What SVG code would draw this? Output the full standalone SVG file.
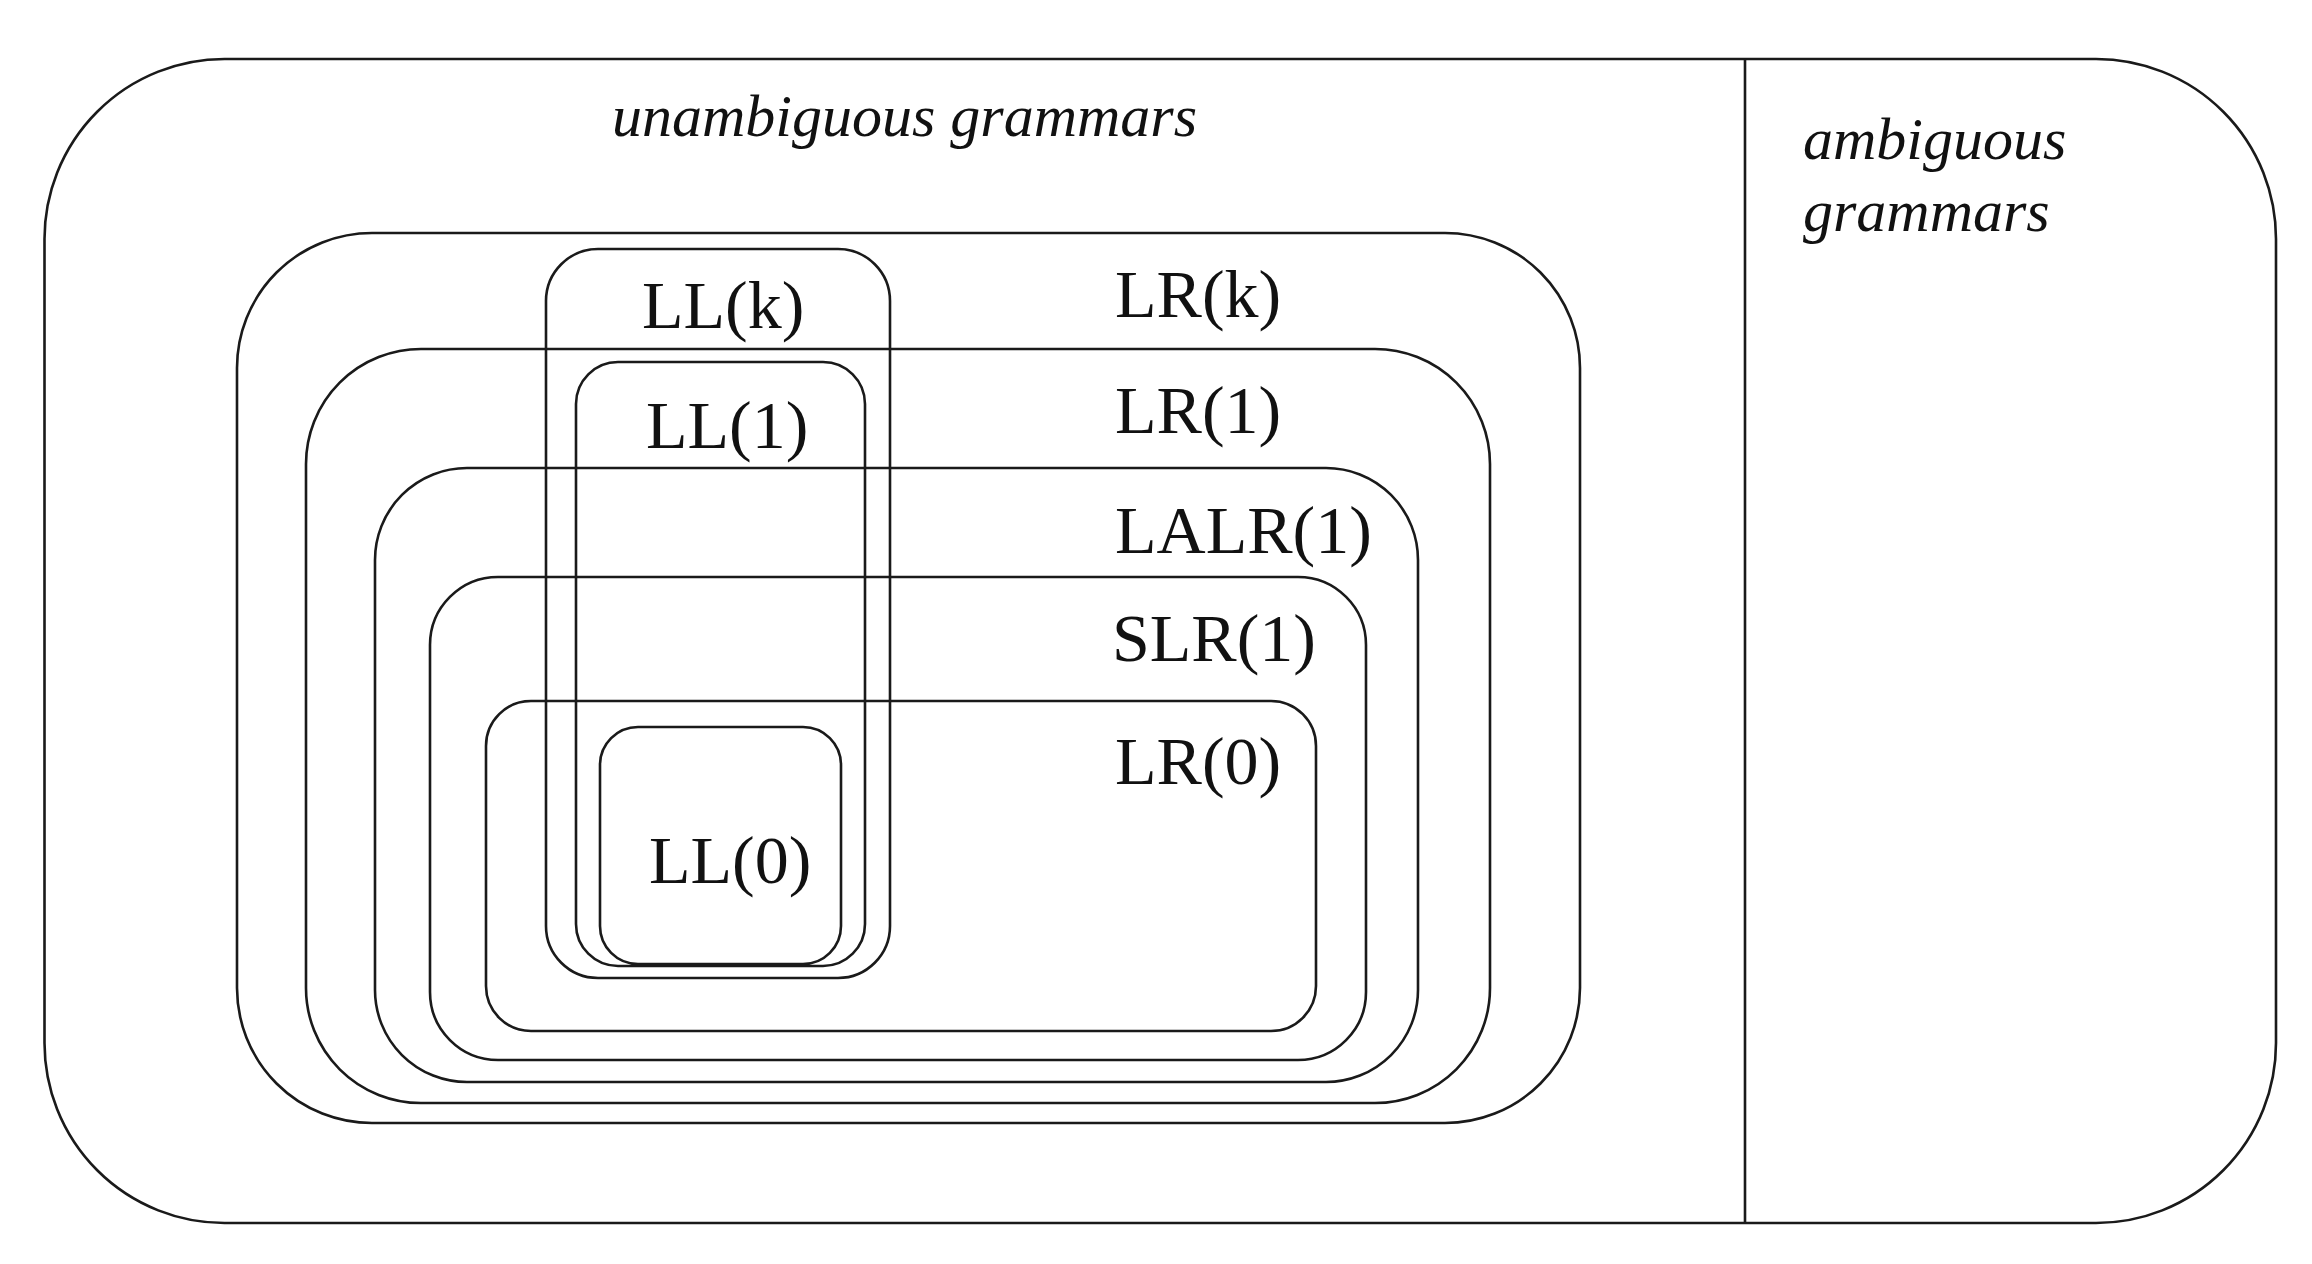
<svg xmlns="http://www.w3.org/2000/svg" width="2312" height="1264" viewBox="0 0 2312 1264">
<style>
.b{fill:none;stroke:#1a1a1a;stroke-width:2.6}
.t{font-family:"Liberation Serif","Times New Roman",serif;font-size:68px;fill:#111}
.i{font-family:"Liberation Serif","Times New Roman",serif;font-style:italic;font-size:60px;fill:#111}
</style>
<rect width="2312" height="1264" fill="#fff"/>
<g id="outer">
<rect class="b" x="44.5" y="59" width="2231.5" height="1164" rx="180" ry="180"/>
<text class="i" x="612" y="136">unambiguous grammars</text>
</g>
<g id="ambiguous">
<text class="i" x="1803" y="159">ambiguous</text>
<text class="i" x="1803" y="231">grammars</text>
</g>
<g id="connectors">
<line class="b" x1="1745" y1="59" x2="1745" y2="1223"/>
</g>
<g id="LRk">
<rect class="b" x="237" y="233" width="1343" height="890" rx="135" ry="135"/>
<text class="t" x="1115" y="317">LR(k)</text>
</g>
<g id="LR1">
<rect class="b" x="306" y="349" width="1184" height="754" rx="115" ry="115"/>
<text class="t" x="1115" y="433">LR(1)</text>
</g>
<g id="LALR1">
<rect class="b" x="375" y="468" width="1043" height="614" rx="92" ry="92"/>
<text class="t" x="1115" y="553">LALR(1)</text>
</g>
<g id="SLR1">
<rect class="b" x="430" y="577" width="936" height="483" rx="68" ry="68"/>
<text class="t" x="1112" y="661">SLR(1)</text>
</g>
<g id="LR0">
<rect class="b" x="486" y="701" width="830" height="330" rx="45" ry="45"/>
<text class="t" x="1115" y="784">LR(0)</text>
</g>
<g id="LLk">
<rect class="b" x="546" y="249" width="344" height="729" rx="52" ry="52"/>
<text class="t" x="642" y="328">LL(k)</text>
</g>
<g id="LL1">
<rect class="b" x="576" y="362" width="289" height="604" rx="42" ry="42"/>
<text class="t" x="646" y="448">LL(1)</text>
</g>
<g id="LL0">
<rect class="b" x="600" y="727" width="241" height="237" rx="38" ry="38"/>
<text class="t" x="649" y="883">LL(0)</text>
</g>
</svg>
